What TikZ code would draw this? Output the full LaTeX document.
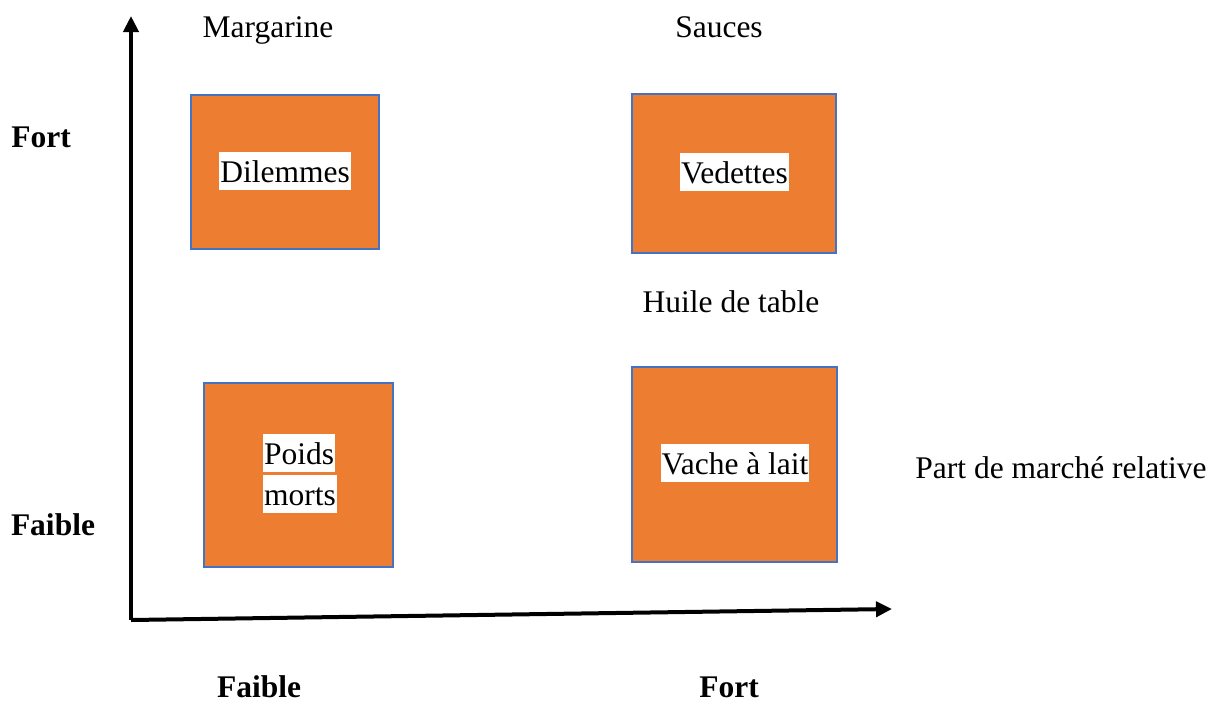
\documentclass[tikz,border=0pt]{standalone}
\usepackage{fontspec}
\setmainfont{Liberation Serif}
\usetikzlibrary{arrows.meta}
\definecolor{boxorange}{HTML}{ED7D31}
\definecolor{boxblue}{HTML}{4472C4}
\begin{document}
\begin{tikzpicture}[x=1pt,y=-1pt,
  quad/.style={fill=boxorange,draw=boxblue,line width=2pt},
  lab/.style={font=\fontsize{31.5}{38}\selectfont,inner sep=0pt,anchor=base},
  blab/.style={lab,font=\fontsize{31.5}{38}\selectfont\bfseries},
  inlab/.style={font=\fontsize{31.5}{38}\selectfont,fill=white,inner xsep=1pt,inner ysep=1pt,text height=29pt,text depth=7pt},
  axis/.style={line width=4pt,-{Triangle[length=16pt,width=15pt]}}]
\useasboundingbox (0,0) rectangle (1211,702);
% boxes
\draw[quad] (191,95) rectangle (379,249);
\draw[quad] (204,383) rectangle (393,567);
\draw[quad] (632,94) rectangle (836,253);
\draw[quad] (632,367) rectangle (837,562);
% inner labels
\node[inlab] (dil) at (285,171) {Dilemmes};
\node[inlab] (ved) at (734.5,172) {Vedettes};
\node[inlab] (vac) at (735,463) {Vache à lait};
\node[inlab,anchor=west] (poi) at (263,453) {Poids};
\node[inlab,anchor=west] (mor) at (263,494) {morts};
% axes
\coordinate (o) at (131,620);
\coordinate (ytip) at (131,16);
\coordinate (xtip) at (892,609);
\draw[axis] (o) -- (ytip);
\draw[axis] (o) -- (xtip);
% labels
\node[lab] (marg) at (268,37) {Margarine};
\node[lab] (sau) at (719,37) {Sauces};
\node[lab] (hui) at (731,312) {Huile de table};
\node[lab] (pdm) at (1061,478) {Part de marché relative};
\node[blab] (yfort) at (41,147) {Fort};
\node[blab] (yfai) at (53,535) {Faible};
\node[blab] (xfai) at (259,697) {Faible};
\node[blab] (xfort) at (729,697) {Fort};
\end{tikzpicture}
\end{document}
